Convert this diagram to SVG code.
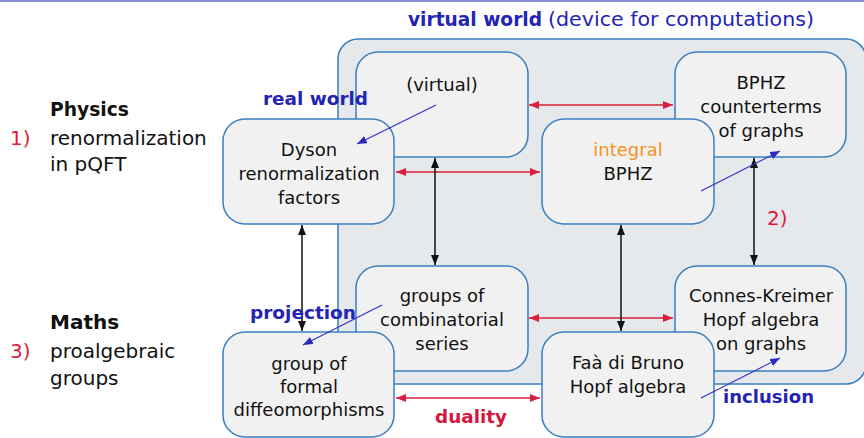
<svg xmlns="http://www.w3.org/2000/svg" width="864" height="438" viewBox="0 0 864 438">
<defs>
<style>
.node rect{fill:#f1f1f1;stroke:#3a7fc0;stroke-width:1.5}
.bg{fill:#e6e9ec;stroke:#3a7fc0;stroke-width:1.5}
text{font-family:"DejaVu Sans","Liberation Sans",sans-serif}
.nt{font-size:18px;fill:#111;text-anchor:middle}
.side{font-size:20px;fill:#111}
.num{font-size:20px;fill:#e0193a}
.lbl{font-size:18.5px;font-weight:bold}
.blue{fill:#2424b4}
.red{fill:#d4173a}
.red-ln{stroke:#d8203e;stroke-width:1.5;fill:none;marker-start:url(#rh);marker-end:url(#rh)}
.blk-ln{stroke:#111;stroke-width:1.5;fill:none;marker-start:url(#kh);marker-end:url(#kh)}
.blu-ln{stroke:#3535c8;stroke-width:1.2;fill:none;marker-end:url(#bh)}
</style>
<marker id="rh" viewBox="0 0 10 8" refX="10" refY="4" markerWidth="10" markerHeight="8" markerUnits="userSpaceOnUse" orient="auto-start-reverse"><path d="M0,0 L10,4 L0,8 z" fill="#d8203e"/></marker>
<marker id="kh" viewBox="0 0 10 8" refX="10" refY="4" markerWidth="10" markerHeight="8" markerUnits="userSpaceOnUse" orient="auto-start-reverse"><path d="M0,0 L10,4 L0,8 z" fill="#111"/></marker>
<marker id="bh" viewBox="0 0 10 8" refX="10" refY="4" markerWidth="10" markerHeight="8" markerUnits="userSpaceOnUse" orient="auto"><path d="M0,0 L10,4 L0,8 z" fill="#2a2ac0"/></marker>
</defs>
<rect x="0" y="0" width="864" height="2" fill="#8c8cd6"/>
<text x="408" y="26" class="lbl blue" style="font-size:20px" textLength="134" lengthAdjust="spacingAndGlyphs">virtual world</text>
<text x="548" y="26" class="blue" style="font-size:20px" textLength="266" lengthAdjust="spacingAndGlyphs">(device for computations)</text>
<g id="physics">
<text x="50" y="116" class="side" font-weight="bold" textLength="79" lengthAdjust="spacingAndGlyphs">Physics</text>
<text x="10" y="145" class="num">1)</text>
<text x="50" y="145" class="side">renormalization</text>
<text x="50" y="171" class="side">in pQFT</text>
</g>
<g id="maths">
<text x="50" y="329" class="side" font-weight="bold">Maths</text>
<text x="10" y="358" class="num">3)</text>
<text x="50" y="358" class="side">proalgebraic</text>
<text x="50" y="385" class="side">groups</text>
</g>
<rect id="virtual-world" class="bg" x="338" y="39" width="528" height="345" rx="20"/>
<g id="virtual" class="node"><rect x="356" y="52" width="172" height="105" rx="22"/><text class="nt" x="442" y="91">(virtual)</text></g>
<g id="bphz-counterterms" class="node"><rect x="675" y="52" width="171" height="105" rx="22"/><text class="nt" x="761" y="89">BPHZ</text><text class="nt" x="761" y="113">counterterms</text><text class="nt" x="761" y="137">of graphs</text></g>
<g id="combinatorial-series" class="node"><rect x="356" y="266" width="172" height="105" rx="22"/><text class="nt" x="442" y="302">groups of</text><text class="nt" x="442" y="326">combinatorial</text><text class="nt" x="442" y="350">series</text></g>
<g id="connes-kreimer" class="node"><rect x="675" y="266" width="171" height="105" rx="22"/><text class="nt" x="761" y="302">Connes-Kreimer</text><text class="nt" x="761" y="326">Hopf algebra</text><text class="nt" x="761" y="350">on graphs</text></g>
<g id="dyson" class="node"><rect x="223" y="119" width="171" height="105" rx="22"/><text class="nt" x="309" y="156">Dyson</text><text class="nt" x="309" y="180">renormalization</text><text class="nt" x="309" y="204">factors</text></g>
<g id="integral-bphz" class="node"><rect x="542" y="119" width="172" height="105" rx="22"/><text class="nt" x="628" y="156" style="fill:#f7931e">integral</text><text class="nt" x="628" y="180">BPHZ</text></g>
<g id="formal-diffeo" class="node"><rect x="223" y="332" width="171" height="105" rx="22"/><text class="nt" x="309" y="370">group of</text><text class="nt" x="309" y="393">formal</text><text class="nt" x="309" y="416">diffeomorphisms</text></g>
<g id="faa-di-bruno" class="node"><rect x="542" y="332" width="172" height="105" rx="22"/><text class="nt" x="628" y="369">Faà di Bruno</text><text class="nt" x="628" y="393">Hopf algebra</text></g>
<g id="connectors">
<line class="red-ln" x1="529" y1="105" x2="673" y2="105"/>
<line class="red-ln" x1="396" y1="172" x2="540" y2="172"/>
<line class="red-ln" x1="529" y1="318" x2="673" y2="318"/>
<line class="red-ln" x1="396" y1="398" x2="540" y2="398"/>
<line class="blk-ln" x1="435" y1="158" x2="435" y2="265"/>
<line class="blk-ln" x1="302" y1="225" x2="302" y2="331"/>
<line class="blk-ln" x1="621" y1="225" x2="621" y2="331"/>
<line class="blk-ln" x1="754" y1="158" x2="754" y2="265"/>
<line class="blu-ln" x1="436" y1="105" x2="357" y2="144"/>
<line class="blu-ln" x1="701" y1="191" x2="780" y2="151"/>
<line class="blu-ln" x1="382" y1="305" x2="303" y2="345"/>
<line class="blu-ln" x1="701" y1="398" x2="780" y2="358"/>
</g>
<text x="263" y="105" class="lbl blue" textLength="105" lengthAdjust="spacingAndGlyphs">real world</text>
<text x="250" y="319" class="lbl blue" textLength="106" lengthAdjust="spacingAndGlyphs">projection</text>
<text x="435" y="423" class="lbl red" textLength="72" lengthAdjust="spacingAndGlyphs">duality</text>
<text x="723" y="403" class="lbl blue" textLength="91" lengthAdjust="spacingAndGlyphs">inclusion</text>
<text x="767" y="225" class="num">2)</text>
</svg>
